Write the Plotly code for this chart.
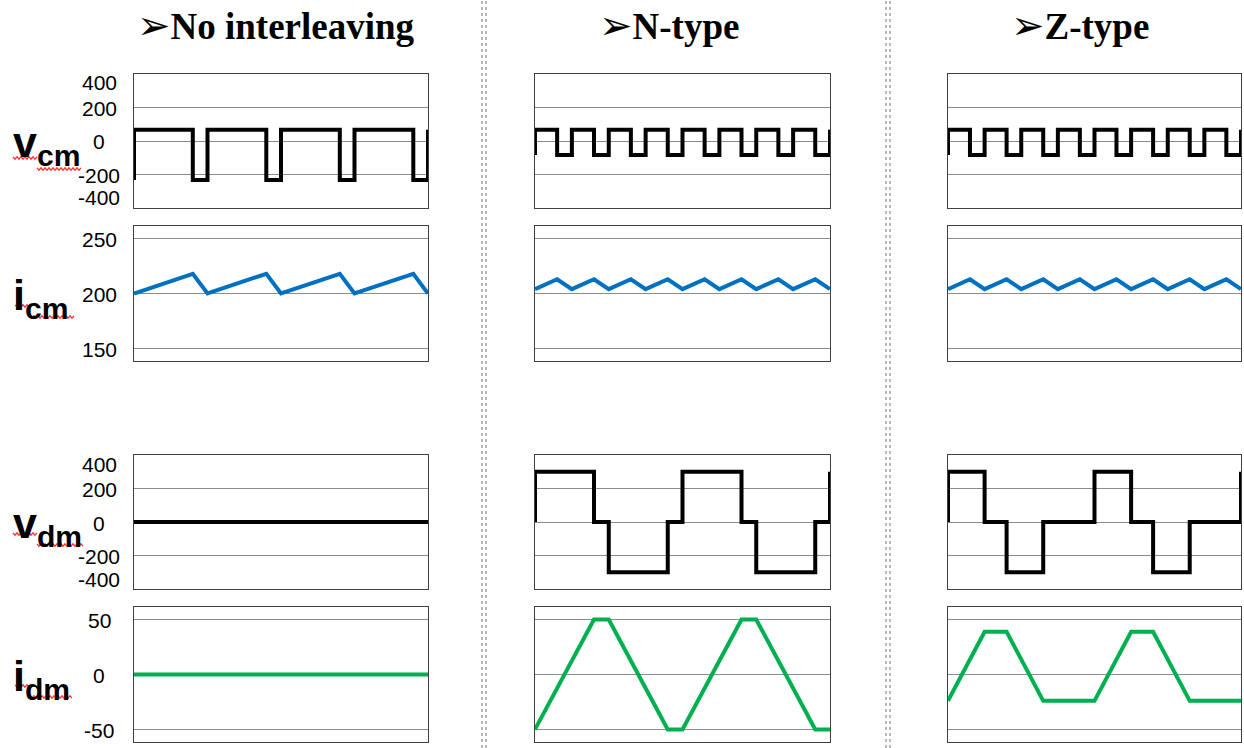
import plotly.graph_objects as go

W, H = 1244, 748

# ---------------- data (time in switching-period units, 0..4) ----------------
# No interleaving
t_vcm_none = [0, 0, 0.8, 0.8, 1.0, 1.0, 1.8, 1.8, 2.0, 2.0, 2.8, 2.8, 3.0, 3.0, 3.8, 3.8, 4.0, 4.0]
vcm_none   = [-233, 67, 67, -233, -233, 67, 67, -233, -233, 67, 67, -233, -233, 67, 67, -233, -233, 67]
t_icm_none = [0, 0.8, 1.0, 1.8, 2.0, 2.8, 3.0, 3.8, 4.0]
icm_none   = [200, 218, 200, 218, 200, 218, 200, 218, 200]
t_vdm_none = [0, 4]
vdm_none   = [0, 0]
t_idm_none = [0, 4]
idm_none   = [0, 0]

# N-type
t_vcm_n = [0, 0, 0.3, 0.3, 0.5, 0.5, 0.8, 0.8, 1.0, 1.0, 1.3, 1.3, 1.5, 1.5, 1.8, 1.8,
           2.0, 2.0, 2.3, 2.3, 2.5, 2.5, 2.8, 2.8, 3.0, 3.0, 3.3, 3.3, 3.5, 3.5, 3.8, 3.8, 4.0, 4.0]
vcm_n   = [-83, 67, 67, -83, -83, 67, 67, -83, -83, 67, 67, -83, -83, 67, 67, -83,
           -83, 67, 67, -83, -83, 67, 67, -83, -83, 67, 67, -83, -83, 67, 67, -83, -83, 67]
t_icm_n = [0, 0.3, 0.5, 0.8, 1.0, 1.3, 1.5, 1.8, 2.0, 2.3, 2.5, 2.8, 3.0, 3.3, 3.5, 3.8, 4.0]
icm_n   = [204, 213, 204, 213, 204, 213, 204, 213, 204, 213, 204, 213, 204, 213, 204, 213, 204]
t_vdm_n = [0, 0, 0.8, 0.8, 1.0, 1.0, 1.8, 1.8, 2.0, 2.0, 2.8, 2.8, 3.0, 3.0, 3.8, 3.8, 4.0, 4.0]
vdm_n   = [0, 300, 300, 0, 0, -300, -300, 0, 0, 300, 300, 0, 0, -300, -300, 0, 0, 300]
t_idm_n = [0, 0.8, 1.0, 1.8, 2.0, 2.8, 3.0, 3.8, 4.0]
idm_n   = [-50, 50, 50, -50, -50, 50, 50, -50, -50]

# Z-type
t_vcm_z = [0, 0, 0.3, 0.3, 0.5, 0.5, 0.8, 0.8, 1.0, 1.0, 1.3, 1.3, 1.5, 1.5, 1.8, 1.8,
           2.0, 2.0, 2.3, 2.3, 2.5, 2.5, 2.8, 2.8, 3.0, 3.0, 3.3, 3.3, 3.5, 3.5, 3.8, 3.8, 4.0, 4.0]
vcm_z   = [-83, 67, 67, -83, -83, 67, 67, -83, -83, 67, 67, -83, -83, 67, 67, -83,
           -83, 67, 67, -83, -83, 67, 67, -83, -83, 67, 67, -83, -83, 67, 67, -83, -83, 67]
t_icm_z = [0, 0.3, 0.5, 0.8, 1.0, 1.3, 1.5, 1.8, 2.0, 2.3, 2.5, 2.8, 3.0, 3.3, 3.5, 3.8, 4.0]
icm_z   = [204, 213, 204, 213, 204, 213, 204, 213, 204, 213, 204, 213, 204, 213, 204, 213, 204]
t_vdm_z = [0, 0, 0.5, 0.5, 0.8, 0.8, 1.3, 1.3, 2.0, 2.0, 2.5, 2.5, 2.8, 2.8, 3.3, 3.3, 4.0, 4.0]
vdm_z   = [0, 300, 300, 0, 0, -300, -300, 0, 0, 300, 300, 0, 0, -300, -300, 0, 0, 300]
t_idm_z = [0, 0.5, 0.8, 1.3, 2.0, 2.5, 2.8, 3.3, 4.0]
idm_z   = [-24, 39, 39, -24, -24, 39, 39, -24, -24]

column_titles = ["No interleaving", "N-type", "Z-type"]
row_names = [("v", "cm"), ("i", "cm"), ("v", "dm"), ("i", "dm")]
v_ticks = [400, 200, 0, -200, -400]
v_ticklabels = ["400", "200", "0", "-200", "-400"]
icm_ticks = [250, 200, 150]
icm_ticklabels = ["250", "200", "150"]
idm_ticks = [50, 0, -50]
idm_ticklabels = ["50", "0", "-50"]

# ---------------- layout geometry ----------------
col_px = [(134, 428), (535, 830), (948, 1241)]
row_px = [(74, 208), (226, 361), (455, 589), (607, 742)]
y_ranges = [[-400, 400], [138.5, 261.5], [-400, 400], [-61.5, 61.5]]
y_ticks = [v_ticks, icm_ticks, v_ticks, idm_ticks]
y_ticklabels = [v_ticklabels, icm_ticklabels, v_ticklabels, idm_ticklabels]
row_colors = ["#000000", "#0070C0", "#000000", "#00B050"]

series = [
    [(t_vcm_none, vcm_none), (t_vcm_n, vcm_n), (t_vcm_z, vcm_z)],
    [(t_icm_none, icm_none), (t_icm_n, icm_n), (t_icm_z, icm_z)],
    [(t_vdm_none, vdm_none), (t_vdm_n, vdm_n), (t_vdm_z, vdm_z)],
    [(t_idm_none, idm_none), (t_idm_n, idm_n), (t_idm_z, idm_z)],
]


def fx(x):
    return x / W


def fy(y):
    return 1 - y / H


fig = go.Figure()
layout = dict(
    width=W, height=H,
    margin=dict(l=0, r=0, t=0, b=0),
    paper_bgcolor="white", plot_bgcolor="white",
    showlegend=False,
)
annotations = []
shapes = []

for r in range(4):
    for c in range(3):
        idx = r * 3 + c + 1
        sfx = "" if idx == 1 else str(idx)
        t, v = series[r][c]
        fig.add_trace(go.Scatter(
            x=t, y=v, mode="lines",
            line=dict(color=row_colors[r], width=4),
            xaxis="x" + sfx, yaxis="y" + sfx,
            hoverinfo="skip", cliponaxis=False,
        ))
        x0, x1 = col_px[c]
        y0, y1 = row_px[r]
        layout["xaxis" + sfx] = dict(
            domain=[fx(x0), fx(x1)], range=[0, 4], anchor="y" + sfx,
            showgrid=False, zeroline=False, showticklabels=False, ticks="",
            showline=True, mirror=True, linecolor="#404040", linewidth=1.3,
            fixedrange=True,
        )
        layout["yaxis" + sfx] = dict(
            domain=[fy(y1), fy(y0)], range=y_ranges[r], anchor="x" + sfx,
            tickmode="array", tickvals=y_ticks[r],
            showgrid=True, gridcolor="#8c8c8c", gridwidth=1,
            zeroline=False, showticklabels=False, ticks="",
            showline=True, mirror=True, linecolor="#404040", linewidth=1.3,
            fixedrange=True,
        )

    # tick labels (first column only), Excel style: centered, ends pulled inside
    sfx = "" if r == 0 else str(r * 3 + 1)
    n = len(y_ticks[r])
    for k, (val, lab) in enumerate(zip(y_ticks[r], y_ticklabels[r])):
        yshift = -1
        if r in (0, 2) and k == 0:
            yshift = -9
        elif r in (0, 2) and k == n - 1:
            yshift = 10
        annotations.append(dict(
            text=lab, x=fx(99), xref="paper", y=val, yref="y" + sfx,
            xanchor="center", yanchor="middle", yshift=yshift, showarrow=False,
            borderpad=0,
            font=dict(family="Liberation Sans, Arial", size=21, color="#000000"),
        ))

    # row names (v_cm, i_cm, ...)
    main, sub = row_names[r]
    yc = (row_px[r][0] + row_px[r][1]) / 2
    annotations.append(dict(
        text="<b>%s<sub>%s</sub></b>" % (main, sub),
        x=fx(11), xref="paper", y=fy(yc + 4), yref="paper",
        xanchor="left", yanchor="middle", showarrow=False,
        font=dict(family="Liberation Sans, Arial", size=43, color="#000000"),
    ))

# column titles
title_cx = [276, 669, 1080]
for c in range(3):
    annotations.append(dict(
        text='<span style="font-family:DejaVu Sans;font-size:40px">➢</span><b>%s</b>' % column_titles[c],
        x=fx(title_cx[c]), xref="paper", y=fy(25), yref="paper",
        xanchor="center", yanchor="middle", showarrow=False,
        font=dict(family="Liberation Serif, Times New Roman", size=37, color="#000000"),
    ))

# column separators (double dotted lines)
for xs in (482, 486, 886, 890):
    shapes.append(dict(
        type="line", xref="paper", yref="paper",
        x0=fx(xs), x1=fx(xs), y0=0, y1=1,
        line=dict(color="#a0a0a0", width=1.5, dash="dot"),
    ))


# spell-check squiggles under the row names
def squiggle(x0, x1, y):
    pts = []
    x = x0
    k = 0
    while x <= x1:
        pts.append((x, y + (1.2 if k % 2 else -1.2)))
        x += 2
        k += 1
    path = "M " + " L ".join("%.5f,%.5f" % (fx(px), fy(py)) for px, py in pts)
    return dict(type="path", xref="paper", yref="paper", path=path,
                line=dict(color="#ff3030", width=1.2))


for (a0, a1, ay), (b0, b1, by) in [
    ((13, 37, 158), (37, 82, 169)),
    ((15, 30, 306), (30, 75, 317)),
    ((13, 37, 534), (37, 83, 545)),
    ((15, 30, 686), (30, 73, 697)),
]:
    shapes.append(squiggle(a0, a1, ay))
    shapes.append(squiggle(b0, b1, by))

layout["annotations"] = annotations
layout["shapes"] = shapes
fig.update_layout(**layout)
fig.write_html("out.html")
